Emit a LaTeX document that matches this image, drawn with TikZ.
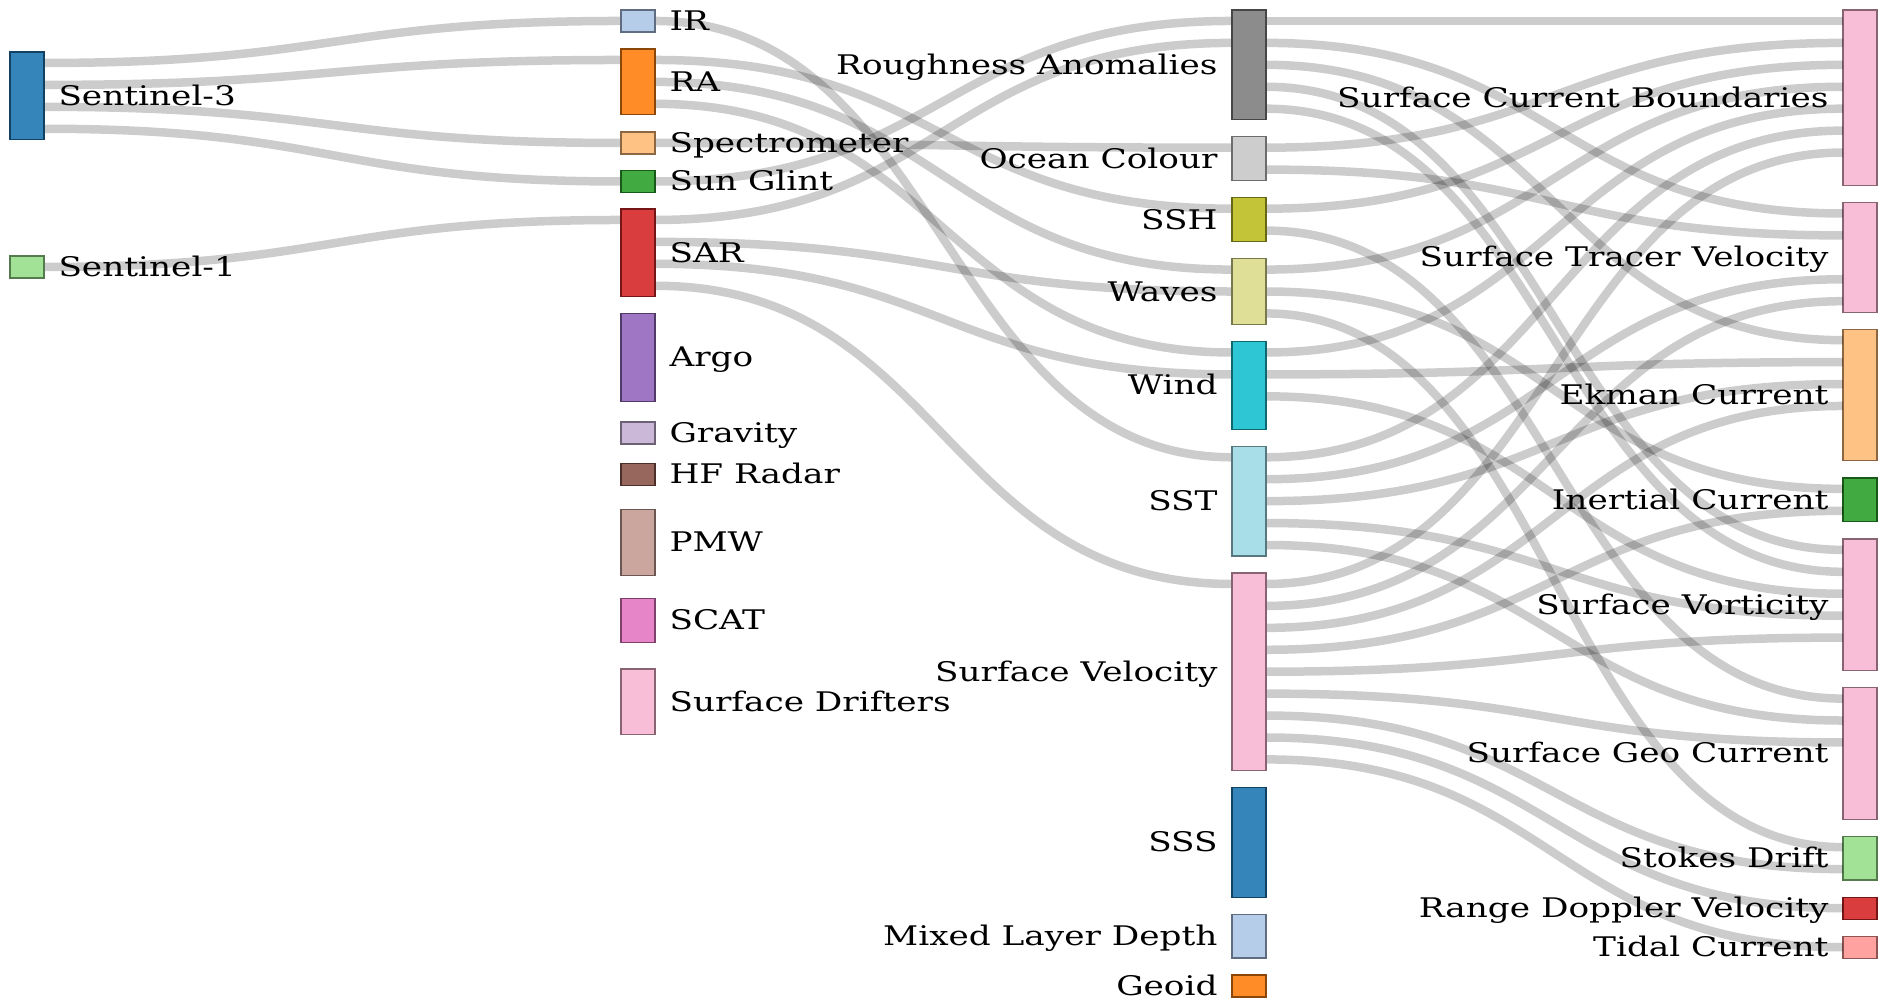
\documentclass[tikz,border=0pt]{standalone}
\usepackage{fontspec}
\setmainfont{DejaVu Serif}[FakeStretch=1.27]
\definecolor{ca}{HTML}{1F77B4}
\definecolor{cb}{HTML}{AEC7E8}
\definecolor{cc}{HTML}{FF7F0E}
\definecolor{cd}{HTML}{FFBB78}
\definecolor{ce}{HTML}{2CA02C}
\definecolor{cf}{HTML}{98DF8A}
\definecolor{cg}{HTML}{D62728}
\definecolor{ch}{HTML}{FF9896}
\definecolor{ci}{HTML}{9467BD}
\definecolor{cj}{HTML}{C5B0D5}
\definecolor{ck}{HTML}{8C564B}
\definecolor{cl}{HTML}{C49C94}
\definecolor{cm}{HTML}{E377C2}
\definecolor{cn}{HTML}{F7B6D2}
\definecolor{co}{HTML}{7F7F7F}
\definecolor{cp}{HTML}{C7C7C7}
\definecolor{cq}{HTML}{BCBD22}
\definecolor{cr}{HTML}{DBDB8D}
\definecolor{cs}{HTML}{17BECF}
\definecolor{ct}{HTML}{9EDAE5}
\newcommand{\mkbox}[5]{\node[nbox=#2, minimum height={#5*8.772pt}, anchor=north west] (#1) at (#3,#4) {};}
\newcommand{\labR}[3]{\node[lbl, anchor=base west] (#1) at ([xshift=5.6pt, yshift=-3.8pt]#2.east) {#3};}
\newcommand{\labL}[3]{\node[lbl, anchor=base east] (#1) at ([xshift=-5.6pt, yshift=-3.8pt]#2.west) {#3};}
\newcommand{\lnk}[4]{\draw[lk] ([yshift={-(#2-0.5)*8.772pt}]#1.north east) .. controls +(288.5,0) and +(-288.5,0) .. ([yshift={-(#4-0.5)*8.772pt}]#3.north west);}
\begin{document}
\begin{tikzpicture}[x=0.4pt,y=-0.4pt,
  nbox/.style={draw=#1!55!black, fill=#1!90!white, line width=0.5pt, minimum width=13.6pt, inner sep=0pt, outer sep=0pt},
  lk/.style={draw=black, draw opacity=0.2, line width=3.4pt},
  lbl/.style={font=\fontsize{10.8}{13}\selectfont, inner sep=0pt}]
\useasboundingbox (0,0) rectangle (1883,1001);
% column 0
\mkbox{s3}{ca}{10}{52}{4}
\mkbox{s1}{cf}{10}{256}{1}
% column 1
\mkbox{ir}{cb}{621}{10}{1}
\mkbox{ra}{cc}{621}{49}{3}
\mkbox{spec}{cd}{621}{132}{1}
\mkbox{sg}{ce}{621}{170.5}{1}
\mkbox{sar}{cg}{621}{209}{4}
\mkbox{argo}{ci}{621}{313.5}{4}
\mkbox{grav}{cj}{621}{422}{1}
\mkbox{hf}{ck}{621}{463.5}{1}
\mkbox{pmw}{cl}{621}{509.5}{3}
\mkbox{scat}{cm}{621}{598.5}{2}
\mkbox{drift}{cn}{621}{669}{3}
% column 2
\mkbox{rough}{co}{1232}{10}{5}
\mkbox{oc}{cp}{1232}{136.7}{2}
\mkbox{ssh}{cq}{1232}{197.7}{2}
\mkbox{waves}{cr}{1232}{258.6}{3}
\mkbox{wind}{cs}{1232}{341.5}{4}
\mkbox{sst}{ct}{1232}{446.3}{5}
\mkbox{sv}{cn}{1232}{573}{9}
\mkbox{sss}{ca}{1232}{787.5}{5}
\mkbox{mld}{cb}{1232}{914.2}{2}
\mkbox{geoid}{cc}{1232}{975.1}{1}
% column 3
\mkbox{scb}{cn}{1843}{10}{8}
\mkbox{stv}{cn}{1843}{202.5}{5}
\mkbox{ekman}{cd}{1843}{329.2}{6}
\mkbox{inert}{ce}{1843}{477.9}{2}
\mkbox{svort}{cn}{1843}{538.9}{6}
\mkbox{geo}{cn}{1843}{687.6}{6}
\mkbox{stokes}{cf}{1843}{836.2}{2}
\mkbox{rdv}{cg}{1843}{897.2}{1}
\mkbox{tidal}{ch}{1843}{936.2}{1}
% links column 0 -> 1
\lnk{s3}{1}{ir}{1}
\lnk{s3}{2}{ra}{1}
\lnk{s3}{3}{spec}{1}
\lnk{s3}{4}{sg}{1}
\lnk{s1}{1}{sar}{1}
% links column 1 -> 2
\lnk{ir}{1}{sst}{1}
\lnk{ra}{1}{ssh}{1}
\lnk{ra}{2}{waves}{1}
\lnk{ra}{3}{wind}{1}
\lnk{spec}{1}{oc}{1}
\lnk{sg}{1}{rough}{1}
\lnk{sar}{1}{rough}{2}
\lnk{sar}{2}{waves}{2}
\lnk{sar}{3}{wind}{2}
\lnk{sar}{4}{sv}{1}
% links column 2 -> 3
\lnk{rough}{1}{scb}{1}
\lnk{rough}{2}{stv}{1}
\lnk{rough}{3}{ekman}{1}
\lnk{rough}{4}{svort}{1}
\lnk{rough}{5}{svort}{2}
\lnk{oc}{1}{scb}{2}
\lnk{oc}{2}{stv}{2}
\lnk{ssh}{1}{scb}{3}
\lnk{ssh}{2}{geo}{1}
\lnk{waves}{1}{scb}{4}
\lnk{waves}{2}{inert}{1}
\lnk{waves}{3}{stokes}{1}
\lnk{wind}{1}{scb}{5}
\lnk{wind}{2}{ekman}{2}
\lnk{wind}{3}{svort}{3}
\lnk{sst}{1}{scb}{6}
\lnk{sst}{2}{stv}{4}
\lnk{sst}{3}{ekman}{3}
\lnk{sst}{4}{svort}{4}
\lnk{sst}{5}{geo}{2}
\lnk{sv}{1}{scb}{7}
\lnk{sv}{2}{stv}{5}
\lnk{sv}{3}{ekman}{4}
\lnk{sv}{4}{inert}{2}
\lnk{sv}{5}{svort}{5}
\lnk{sv}{6}{geo}{3}
\lnk{sv}{7}{stokes}{2}
\lnk{sv}{8}{rdv}{1}
\lnk{sv}{9}{tidal}{1}
% redraw boxes on top of links
\mkbox{s3b}{ca}{10}{52}{4}
\mkbox{s1b}{cf}{10}{256}{1}
\mkbox{irb}{cb}{621}{10}{1}
\mkbox{rab}{cc}{621}{49}{3}
\mkbox{specb}{cd}{621}{132}{1}
\mkbox{sgb}{ce}{621}{170.5}{1}
\mkbox{sarb}{cg}{621}{209}{4}
\mkbox{roughb}{co}{1232}{10}{5}
\mkbox{ocb}{cp}{1232}{136.7}{2}
\mkbox{sshb}{cq}{1232}{197.7}{2}
\mkbox{wavesb}{cr}{1232}{258.6}{3}
\mkbox{windb}{cs}{1232}{341.5}{4}
\mkbox{sstb}{ct}{1232}{446.3}{5}
\mkbox{svb}{cn}{1232}{573}{9}
% labels
\labR{l-s3}{s3}{Sentinel-3}
\labR{l-s1}{s1}{Sentinel-1}
\labR{l-ir}{ir}{IR}
\labR{l-ra}{ra}{RA}
\labR{l-spec}{spec}{Spectrometer}
\labR{l-sg}{sg}{Sun Glint}
\labR{l-sar}{sar}{SAR}
\labR{l-argo}{argo}{Argo}
\labR{l-grav}{grav}{Gravity}
\labR{l-hf}{hf}{HF Radar}
\labR{l-pmw}{pmw}{PMW}
\labR{l-scat}{scat}{SCAT}
\labR{l-drift}{drift}{Surface Drifters}
\labL{l-rough}{rough}{Roughness Anomalies}
\labL{l-oc}{oc}{Ocean Colour}
\labL{l-ssh}{ssh}{SSH}
\labL{l-waves}{waves}{Waves}
\labL{l-wind}{wind}{Wind}
\labL{l-sst}{sst}{SST}
\labL{l-sv}{sv}{Surface Velocity}
\labL{l-sss}{sss}{SSS}
\labL{l-mld}{mld}{Mixed Layer Depth}
\labL{l-geoid}{geoid}{Geoid}
\labL{l-scb}{scb}{Surface Current Boundaries}
\labL{l-stv}{stv}{Surface Tracer Velocity}
\labL{l-ekman}{ekman}{Ekman Current}
\labL{l-inert}{inert}{Inertial Current}
\labL{l-svort}{svort}{Surface Vorticity}
\labL{l-geo}{geo}{Surface Geo Current}
\labL{l-stokes}{stokes}{Stokes Drift}
\labL{l-rdv}{rdv}{Range Doppler Velocity}
\labL{l-tidal}{tidal}{Tidal Current}
\end{tikzpicture}
\end{document}
